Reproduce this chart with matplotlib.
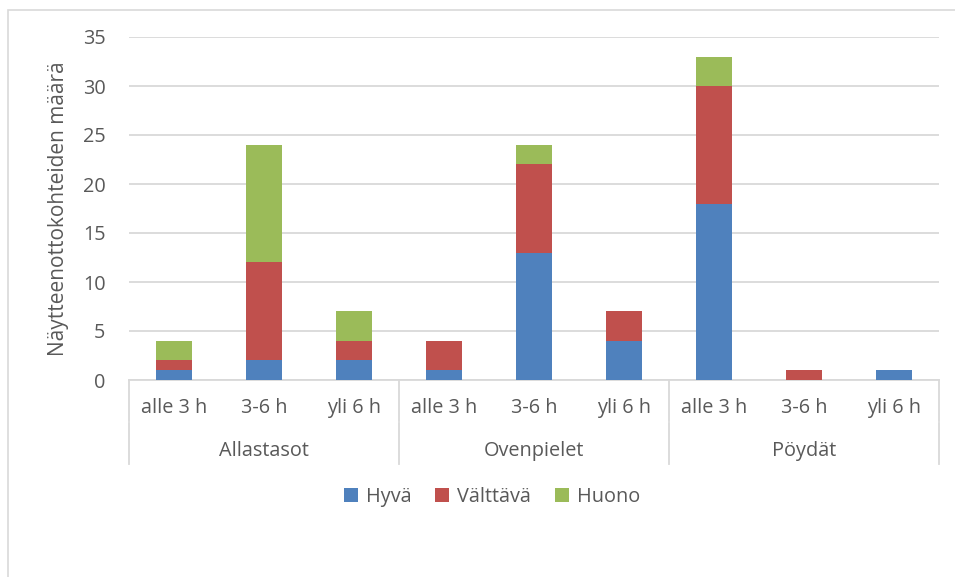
import matplotlib
matplotlib.use("Agg")
import matplotlib.pyplot as plt
from matplotlib.patches import Patch, Rectangle
from matplotlib.lines import Line2D
import numpy as np

groups = ["Allastasot", "Ovenpielet", "Pöydät"]
subcats = ["alle 3 h", "3-6 h", "yli 6 h"]
series = ["Hyvä", "Välttävä", "Huono"]
hyva = [1, 2, 2, 1, 13, 4, 18, 0, 1]
valttava = [1, 10, 2, 3, 9, 3, 12, 1, 0]
huono = [2, 12, 3, 0, 2, 0, 3, 0, 0]
yticks = [0, 5, 10, 15, 20, 25, 30, 35]
ylabel = "Näytteenottokohteiden määrä"

colors = ["#4F81BD", "#C0504D", "#9BBB59"]
text_col = "#595959"
grid_col = "#D9D9D9"
plt.rcParams["font.family"] = ["Open Sans", "DejaVu Sans"]
fs = 14.3

W, H = 955, 577
fig = plt.figure(figsize=(W / 100, H / 100), dpi=100)
x0, x1, ytop, ybot = 129, 939, 37, 380
ax = fig.add_axes([x0 / W, 1 - ybot / H, (x1 - x0) / W, (ybot - ytop) / H])

n = len(hyva)
x = np.arange(n)
bottom = np.zeros(n)
for vals, c in zip([hyva, valttava, huono], colors):
    ax.bar(x, vals, width=0.4, bottom=bottom, color=c, zorder=3)
    bottom += np.array(vals)

ax.set_xlim(-0.5, n - 0.5)
ax.set_ylim(0, 35)
ax.set_yticks(yticks)
ax.yaxis.grid(True, color=grid_col, linewidth=1.3, zorder=0)
for s in ["top", "right", "left"]:
    ax.spines[s].set_visible(False)
ax.spines["bottom"].set_color(grid_col)
ax.spines["bottom"].set_linewidth(1.3)
ax.tick_params(axis="y", length=0, labelsize=fs, labelcolor=text_col, pad=17)
ax.tick_params(axis="x", length=0, labelbottom=False)
ax.set_ylabel(ylabel, fontsize=15, color=text_col, labelpad=10)

# two-tier category axis
tr = ax.get_xaxis_transform()
px = (ybot - ytop)
def yax(pix):
    return (ybot - pix) / px

for i in range(n):
    ax.text(i, yax(408), subcats[i % 3], transform=tr, ha="center", va="center",
            fontsize=fs, color=text_col)
for g, name in enumerate(groups):
    ax.text(3 * g + 1, yax(451), name, transform=tr, ha="center", va="center",
            fontsize=fs, color=text_col)
for b in [-0.5, 2.5, 5.5, 8.5]:
    for ya, yb in [(380, 421), (423, 464)]:
        ax.add_line(Line2D([b, b], [yax(ya), yax(yb)], transform=tr, color=grid_col,
                           linewidth=1.3, clip_on=False))

handles = [Patch(facecolor=c, edgecolor="none") for c in colors]
fig.legend(handles, series, loc="center", bbox_to_anchor=(492 / W, 1 - 497 / H),
           ncol=3, frameon=False, fontsize=fs, handlelength=0.7, handleheight=0.7,
           handletextpad=0.4, columnspacing=1.2, labelcolor=text_col)

fig.add_artist(Rectangle((8 / W, -0.1), 1.2, 1 - 10 / H + 0.1, transform=fig.transFigure,
                         fill=False, edgecolor=grid_col, linewidth=1.2))

fig.savefig("out.png", dpi=100)
